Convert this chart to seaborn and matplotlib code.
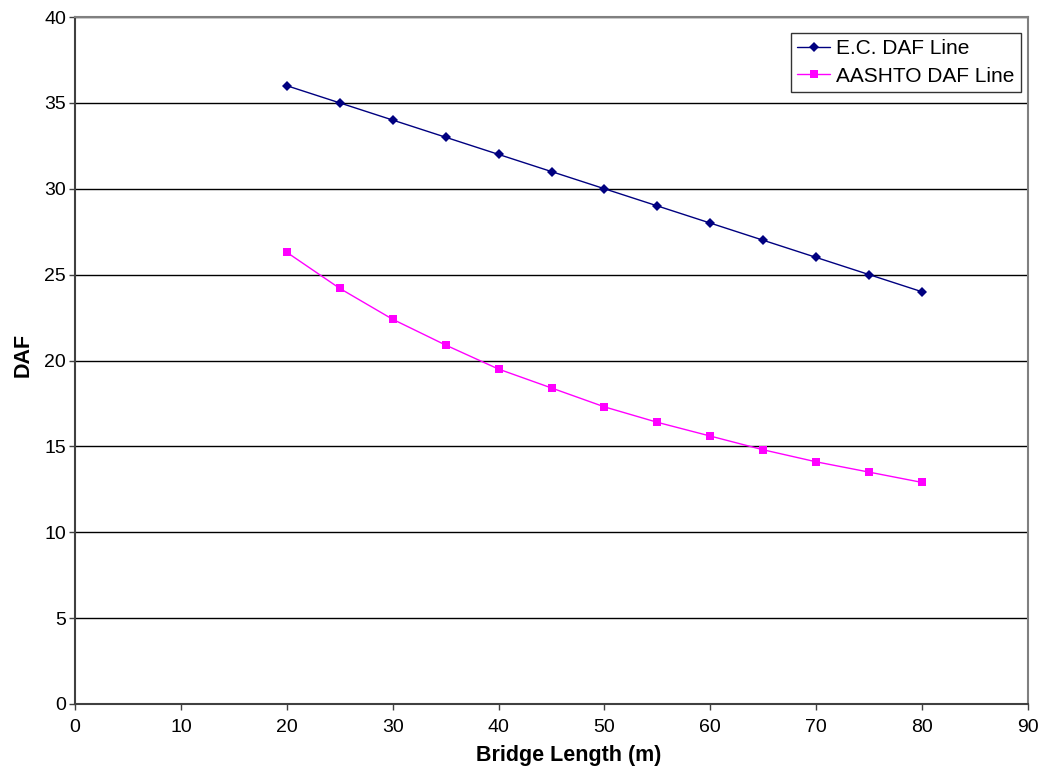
import matplotlib
matplotlib.use("Agg")
import matplotlib.pyplot as plt
import seaborn as sns
import pandas as pd

# Bridge length (m) and dynamic amplification factors (%)
bridge_length = [20, 25, 30, 35, 40, 45, 50, 55, 60, 65, 70, 75, 80]
ec_daf = [36, 35, 34, 33, 32, 31, 30, 29, 28, 27, 26, 25, 24]
aashto_daf = [26.3, 24.2, 22.4, 20.9, 19.5, 18.4, 17.3, 16.4, 15.6, 14.8, 14.1, 13.5, 12.9]

series_names = ["E.C. DAF Line", "AASHTO DAF Line"]
x_ticks = list(range(0, 91, 10))
y_ticks = list(range(0, 41, 5))

df = pd.concat([
    pd.DataFrame({"Length": bridge_length, "DAF": ec_daf, "Series": series_names[0]}),
    pd.DataFrame({"Length": bridge_length, "DAF": aashto_daf, "Series": series_names[1]}),
])

sns.set_theme(style="white")
plt.rcParams["font.family"] = ["Liberation Sans", "DejaVu Sans"]
plt.rcParams["text.color"] = "black"
plt.rcParams["axes.labelcolor"] = "black"

fig = plt.figure(figsize=(10.46, 7.83), dpi=100)
ax = fig.add_axes([75 / 1046, 1 - 704 / 783, (1028 - 75) / 1046, (704 - 17) / 783])

sns.lineplot(
    data=df, x="Length", y="DAF", hue="Series", style="Series",
    palette={series_names[0]: "#000080", series_names[1]: "#FF00FF"},
    markers={series_names[0]: "D", series_names[1]: "s"},
    dashes=False, linewidth=1.0, markersize=5.5, markeredgewidth=0,
    ax=ax,
)

ax.set_xlim(0, 90)
ax.set_ylim(0, 40)
ax.set_xticks(x_ticks)
ax.set_yticks(y_ticks)
ax.set_xticklabels([str(t) for t in x_ticks], fontsize=14)
ax.set_yticklabels([str(t) for t in y_ticks], fontsize=14)
ax.tick_params(axis="both", direction="out", length=4, width=1,
               bottom=True, left=True, labelcolor="black", color="#404040")
ax.tick_params(axis="x", pad=7)
ax.tick_params(axis="y", pad=2.5)

ax.yaxis.grid(True, color="black", linewidth=1.0)
ax.xaxis.grid(False)
ax.set_axisbelow(True)

for side in ["left", "bottom"]:
    ax.spines[side].set_color("#404040")
    ax.spines[side].set_linewidth(1.5)
for side in ["top", "right"]:
    ax.spines[side].set_color("#808080")
    ax.spines[side].set_linewidth(1.5)

ax.set_xlabel("Bridge Length (m)", fontsize=15.5, fontweight="bold", labelpad=6.5)
ax.set_ylabel("DAF", fontsize=15.5, fontweight="bold", labelpad=7.5)
ax.xaxis.label.set_x(0.518)
ax.yaxis.label.set_y(0.508)

leg = ax.legend(
    title=None, loc="upper right", bbox_to_anchor=(0.9927, 0.9767),
    fontsize=15, frameon=True, fancybox=False, borderpad=0.3,
    handlelength=1.6, handletextpad=0.3, labelspacing=0.4, borderaxespad=0,
)
leg.get_frame().set_edgecolor("black")
leg.get_frame().set_linewidth(1.0)

fig.savefig("out.png", dpi=100)
